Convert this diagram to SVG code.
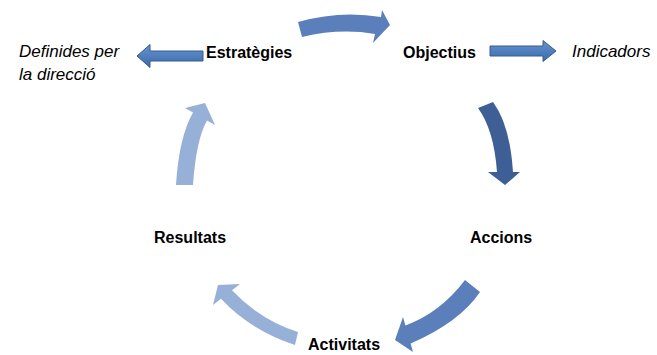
<svg xmlns="http://www.w3.org/2000/svg" width="657" height="355" viewBox="0 0 657 355">
<defs>
<linearGradient id="gBlock" x1="0" y1="0" x2="0" y2="1">
<stop offset="0" stop-color="#6a93cc"/>
<stop offset="0.5" stop-color="#4f7fbf"/>
<stop offset="1" stop-color="#3f6aa6"/>
</linearGradient>
<style>
.lbl{font-family:"Liberation Sans",Arial,sans-serif;font-weight:bold;font-size:16px;fill:#000}
.note{font-family:"Liberation Sans",Arial,sans-serif;font-style:italic;font-size:17px;fill:#000}
.mid{fill:#5a7fbb}
.dark{fill:#3d5f96}
.light{fill:#97b0d7}
.block{fill:url(#gBlock);stroke:#385d8a;stroke-width:1}
</style>
</defs>
<rect width="657" height="355" fill="#fff"/>
<g id="connectors">
<path id="arc-estrategies-objectius" class="mid" d="M298,22 Q340,10 381,17 L382,10 L390,25 L373,43 L375,34 Q340,28 302,37 Z"/>
<path id="arc-objectius-accions" class="dark" d="M493,102 Q510,125 513,172 L520,172 L505,185 L488,172 L497,172 Q494,130 478,108 Z"/>
<path id="arc-accions-activitats" class="mid" d="M465,280 Q440,313 405.4,325.4 L403,317 L395,340 L413,352 L410.6,343.6 Q460,322 480,292 Z"/>
<path id="arc-activitats-resultats" class="light" d="M298,332 Q260,320 232,290.2 L240,284 L218,285 L213,305 L221,298.8 Q250,330 295,345 Z"/>
<path id="arc-resultats-estrategies" class="light" d="M176,185 Q179,137 193,112.6 L185,108 L205,103 L215,125 L207,120.4 Q196,140 193,185 Z"/>
<path id="arrow-estrategies-definides" class="block" d="M203,51 L150,51 L150,44.5 L137,56 L150,67.5 L150,61 L203,61 Z"/>
<path id="arrow-objectius-indicadors" class="block" d="M490,46 L543,46 L543,40.5 L556,51 L543,61.5 L543,56 L490,56 Z"/>
</g>
<g id="node-estrategies"><text class="lbl" x="206" y="58">Estratègies</text></g>
<g id="node-objectius"><text class="lbl" x="403" y="58">Objectius</text></g>
<g id="node-accions"><text class="lbl" x="470" y="243">Accions</text></g>
<g id="node-activitats"><text class="lbl" x="308" y="350">Activitats</text></g>
<g id="node-resultats"><text class="lbl" x="154" y="243">Resultats</text></g>
<g id="node-indicadors"><text class="note" x="572" y="57">Indicadors</text></g>
<g id="node-definides"><text class="note" x="19" y="57">Definides per</text><text class="note" x="19" y="80">la direcció</text></g>
</svg>
